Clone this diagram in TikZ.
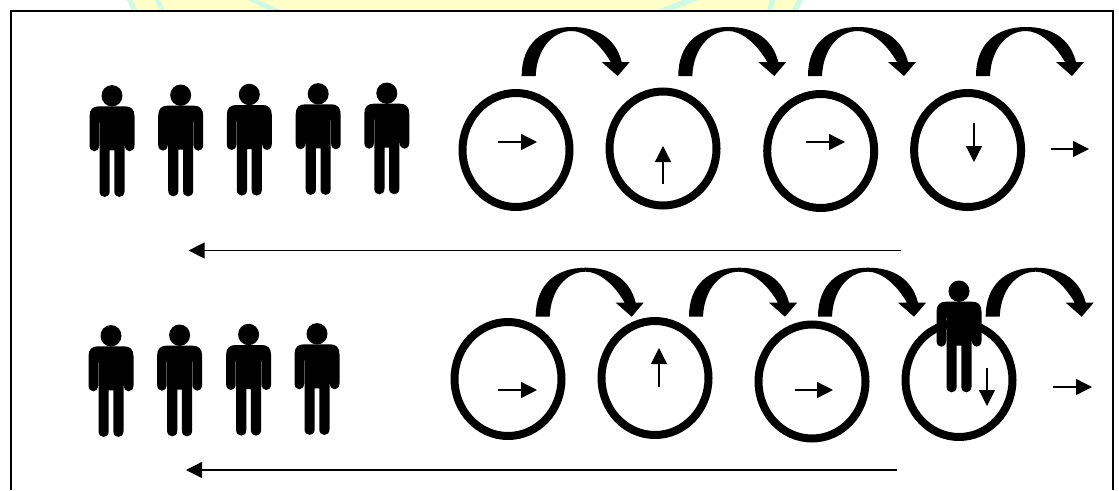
\documentclass[tikz,border=0pt]{standalone}
\usepackage{tikz}
\usetikzlibrary{arrows.meta,positioning,shapes.geometric}
\definecolor{bandyellow}{HTML}{FFFFC8}
\definecolor{bandmint}{HTML}{CCFAE2}
\tikzset{
  coin/.style={ellipse,draw,line width=8pt,minimum width=107pt,minimum height=114pt,inner sep=0pt},
  spin/.style={line width=1.3pt,-{Triangle[length=16pt,width=16pt]}},
  turn/.pic={
    \fill (0,0) .. controls (0,-32) and (20,-49) .. (50,-49)
      .. controls (75,-49) and (94,-38) .. (100,-14)
      -- (108,-14) -- (96,0) -- (80,-14) -- (89,-14)
      .. controls (78,-33) and (63,-45) .. (50,-45)
      .. controls (30,-45) and (15,-26) .. (14,0) -- cycle;
  },
  person/.pic={
    \fill (0,10.5) ellipse [x radius=10.5,y radius=10.7];
    \fill (-13,21) -- (13,21) .. controls (19,21) and (22.5,24) .. (22.5,31)
      -- (22.5,60) .. controls (22.5,68) and (12.9,68) .. (12.9,60) -- (12.9,37) -- (12.5,37)
      -- (12.5,106) .. controls (12.5,113.5) and (2.3,113.5) .. (2.3,106) -- (2.3,65)
      -- (-2.3,65) -- (-2.3,106) .. controls (-2.3,113.5) and (-12.5,113.5) .. (-12.5,106)
      -- (-12.5,37) -- (-12.9,37) -- (-12.9,60) .. controls (-12.9,68) and (-22.5,68) .. (-22.5,60)
      -- (-22.5,31) .. controls (-22.5,24) and (-19,21) .. (-13,21) -- cycle;
  }
}
\begin{document}
\begin{tikzpicture}[x=1pt,y=-1pt]
  \useasboundingbox (0,0) rectangle (1119,490);
  % band behind the frame
  \fill[bandyellow] (127,0) -- (803,0) -- (798,11) -- (132,11) -- cycle;
  \fill[bandmint] (127,0) -- (132,0) -- (138,11) -- (132,11) -- cycle;
  \fill[bandmint] (155,0) -- (160,0) -- (165,11) -- (160,11) -- cycle;
  \fill[bandmint] (248,0) -- (258,0) -- (283,11) -- (270,11) -- cycle;
  \fill[bandmint] (655,11) -- (683,0) -- (698,0) -- (670,11) -- cycle;
  \fill[bandmint] (767,11) -- (770,0) -- (775,0) -- (772,11) -- cycle;
  \fill[bandmint] (792,11) -- (797,0) -- (803,0) -- (798,11) -- cycle;
  % frame
  \draw[line width=2.8pt] (11,490) -- (11,11) -- (1113,11) -- (1113,490);
  % top row
  \foreach \px/\py in {112/85.3,180.7/84.7,249.3/84,318.2/83.3,386.8/82.7}
    \pic at (\px,\py) {person};
  \node[coin] (c1) at (516,150) {};
  \node[coin] (c2) at (663,148.5) {};
  \node[coin] (c3) at (820.7,151) {};
  \node[coin] (c4) at (967.6,150) {};
  \foreach \tx in {521.7,678.3,808,976}
    \pic at (\tx,76) {turn};
  \draw[spin] (498,142) -- (537,142);
  \draw[spin] (663,184) -- (663,146);
  \draw[spin] (806,142) -- (845,142);
  \draw[spin] (974,123) -- (974,162);
  \draw[spin] (1051,149) -- (1089,149);
  \coordinate (r1) at (901,250.5);
  \coordinate (l1) at (188.6,250.5);
  \draw[spin] (r1) -- (l1);
  % bottom row
  \foreach \px/\py in {111/325.3,179.6/324.7,248.6/324,317/323.3}
    \pic at (\px,\py) {person};
  \node[coin] (d1) at (508,379) {};
  \node[coin] (d2) at (655,378) {};
  \node[coin] (d3) at (812,381.5) {};
  \node[coin] (d4) at (959,380) {};
  \foreach \tx in {535.7,689,818,985.7}
    \pic at (\tx,316.7) {turn};
  \pic at (959,280.7) {person};
  \draw[spin] (498,390) -- (537,390);
  \draw[spin] (659,387) -- (659,348);
  \draw[spin] (795,390) -- (833,390);
  \draw[spin] (987,368) -- (987,406);
  \draw[spin] (1053,387) -- (1092,387);
  \coordinate (r2) at (897,470);
  \coordinate (l2) at (186,470);
  \draw[spin] (r2) -- (l2);
\end{tikzpicture}
\end{document}
